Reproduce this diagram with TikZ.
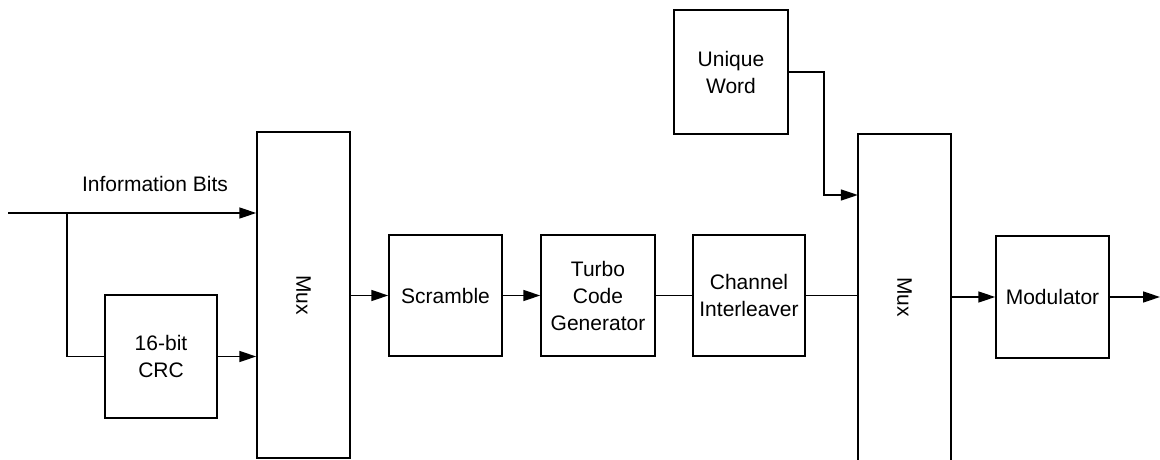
\documentclass[tikz,border=0pt]{standalone}
\usepackage{fontspec}
\setmainfont{Liberation Sans}
\usetikzlibrary{arrows.meta}
\begin{document}
\begin{tikzpicture}[x=1pt,y=-1pt,
  lbl/.style={font=\fontsize{21}{27}\selectfont, align=center, inner sep=0pt},
  box/.style={lbl, draw, line width=1.5pt},
  conn/.style={line width=1.5pt},
  arr/.style={conn, -{Triangle[length=17pt,width=11pt]}}]
\useasboundingbox (0,0) rectangle (1160,460);
% blocks
\node[box, minimum width=112pt, minimum height=123pt] (crc) at (161,356.5) {16-bit\\CRC};
\node[box, minimum width=93pt, minimum height=326pt] (mux1) at (303.5,295) {};
\node[lbl, rotate=-90] (mux1t) at (mux1) {Mux};
\node[box, minimum width=113pt, minimum height=121pt] (scr) at (445.5,295.5) {Scramble};
\node[box, minimum width=114pt, minimum height=121pt] (turbo) at (598,295.5) {Turbo\\Code\\Generator};
\node[box, minimum width=112pt, minimum height=121pt] (chan) at (749,295.5) {Channel\\Interleaver};
\node[box, minimum width=114pt, minimum height=124pt] (uw) at (731,72) {Unique\\Word};
\node[lbl, minimum width=93pt, minimum height=326pt] (mux2) at (904.5,297) {};
\draw[conn] (mux2.south west) -- (mux2.north west) -- (mux2.north east) -- (mux2.south east);
\node[lbl, rotate=-90] (mux2t) at (mux2) {Mux};
\node[box, minimum width=113pt, minimum height=122pt] (mod) at (1052.5,297) {Modulator};
\node[lbl] (info) at (155,184) {Information Bits};
% coordinates
\coordinate (in) at (8,213);
\coordinate (br) at (67,213);
\coordinate (uwbend) at (824,195);
\coordinate (out) at (1160,297);
% connectors
\draw[arr] (in) -- (mux1.west |- in);
\draw[conn] (br) |- (crc.west);
\draw[arr] (crc.east) -- (crc.east -| mux1.west);
\draw[arr] (mux1.east |- scr.west) -- (scr.west);
\draw[arr] (scr.east) -- (turbo.west);
\draw[conn] (turbo.east) -- (chan.west);
\draw[conn] (chan.east) -- (chan.east -| mux2.west);
\draw[arr] (uw.east) -| (uwbend) -- (uwbend -| mux2.west);
\draw[arr] (mux2.east |- mod.west) -- (mod.west);
\draw[arr] (mod.east) -- (out);
\end{tikzpicture}
\end{document}
